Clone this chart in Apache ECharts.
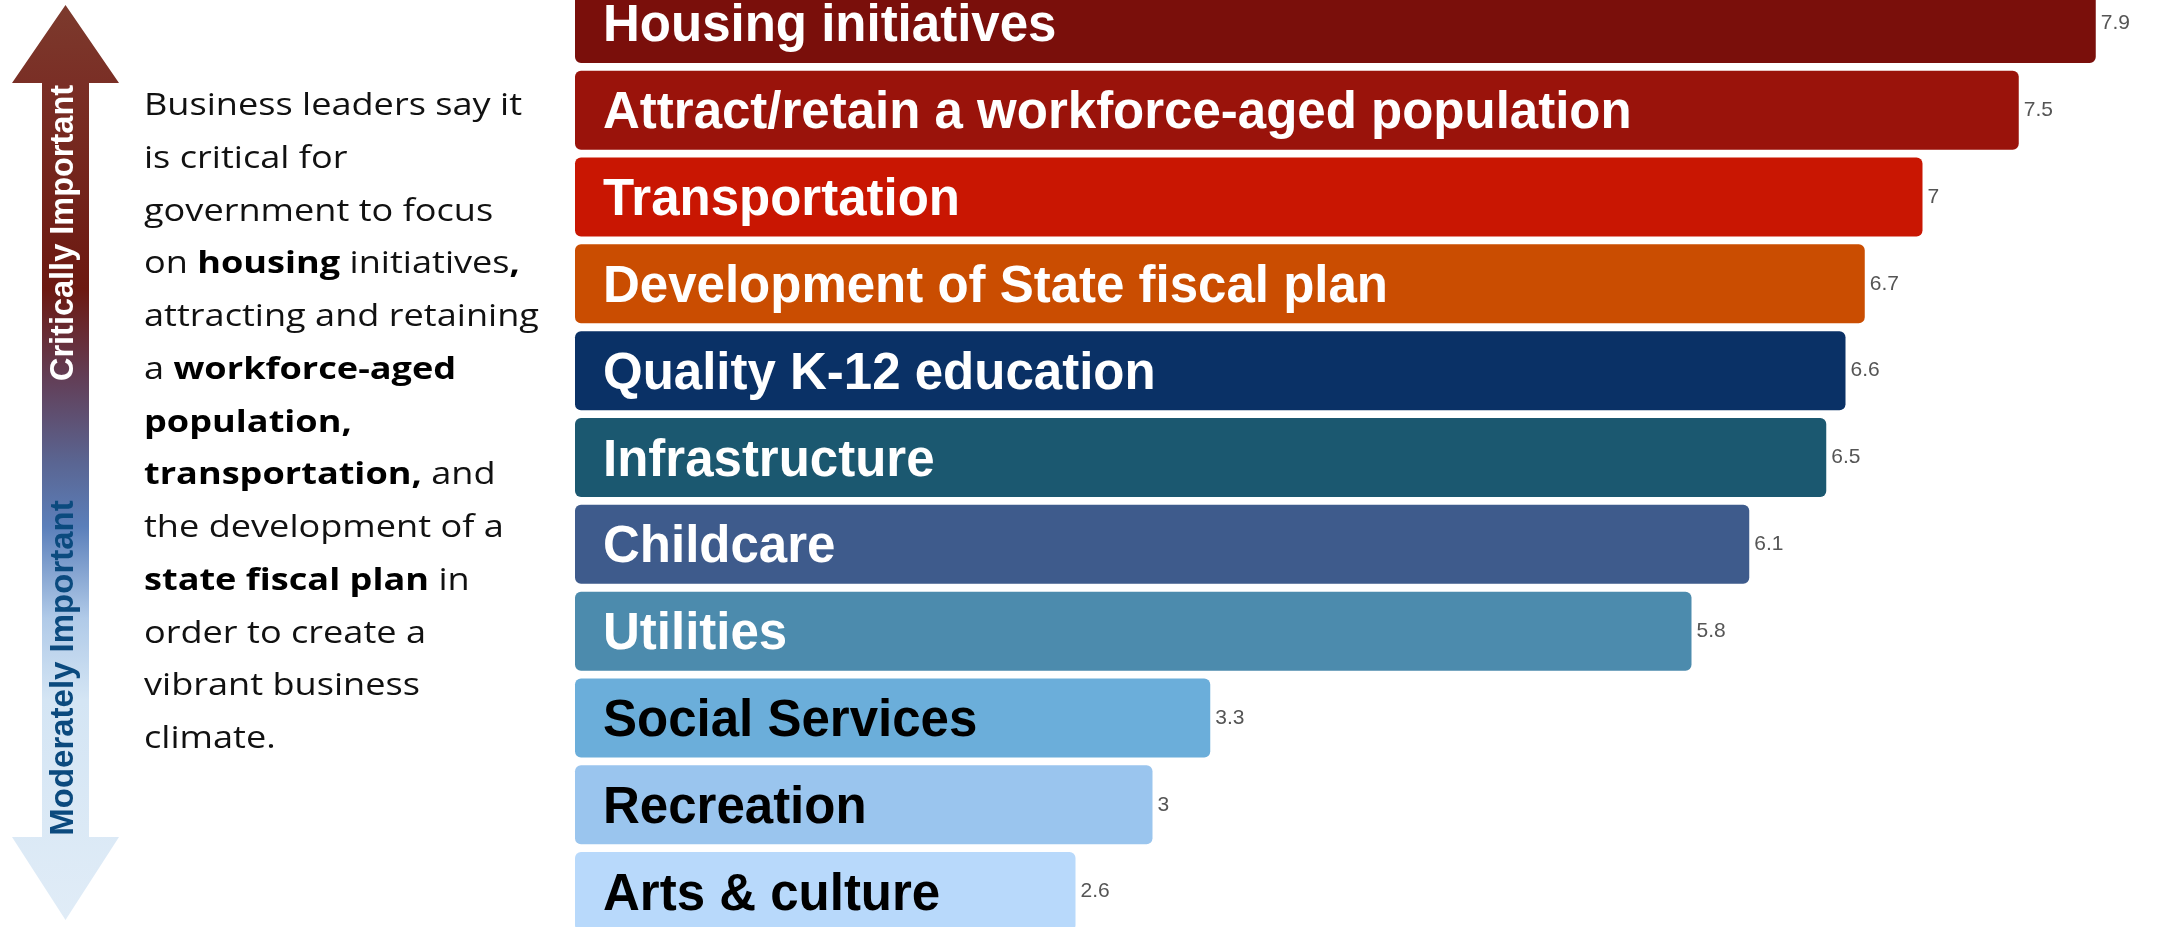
<!DOCTYPE html>
<html>
<head>
<meta charset="utf-8">
<script src="https://cdn.jsdelivr.net/npm/echarts@6/dist/echarts.min.js"></script>
<style>
html,body{margin:0;padding:0;background:#fff;}
#chart{width:2157px;height:927px;}
</style>
</head>
<body>
<div id="chart"></div>
<script>
// ---- data ----
const categories = [
  'Housing initiatives',
  'Attract/retain a workforce-aged population',
  'Transportation',
  'Development of State fiscal plan',
  'Quality K-12 education',
  'Infrastructure',
  'Childcare',
  'Utilities',
  'Social Services',
  'Recreation',
  'Arts & culture'
];
const values = [7.9, 7.5, 7, 6.7, 6.6, 6.5, 6.1, 5.8, 3.3, 3, 2.6];
const arrowLabels = ['Critically Important', 'Moderately Important'];
const paragraphLines = [
  'Business leaders say it',
  'is critical for',
  'government to focus',
  'on {b|housing} initiatives{b|,}',
  'attracting and retaining',
  'a {b|workforce-aged}',
  '{b|population,}',
  '{b|transportation,} and',
  'the development of a',
  '{b|state fiscal plan} in',
  'order to create a',
  'vibrant business',
  'climate.'
];

// ---- styles ----
const barColors = ['#7A0F0B','#9A130B','#C91602','#CA4D01','#0A3166','#1B5870',
                   '#3E5B8C','#4C8BAD','#6BAEDA','#9AC5EE','#B8D9FB'];
const nameColors = ['#fff','#fff','#fff','#fff','#fff','#fff','#fff','#fff','#000','#000','#000'];
const paraFont = '"Open Sans", Lato, sans-serif';
const paraSize = 31;

// horizontal stretch so the paragraph font matches the reference line width
const mc = document.createElement('canvas').getContext('2d');
mc.font = paraSize + 'px ' + paraFont;
const paraScale = 378 / mc.measureText(paragraphLines[0]).width;

const chart = echarts.init(document.getElementById('chart'), null, {renderer:'canvas'});

const arrowGradient = new echarts.graphic.LinearGradient(0, 0, 0, 1, [
  {offset: 0.00, color: '#7C3A2D'},
  {offset: 0.09, color: '#7A2E25'},
  {offset: 0.31, color: '#6C1911'},
  {offset: 0.41, color: '#623F58'},
  {offset: 0.50, color: '#5A6592'},
  {offset: 0.57, color: '#5B7FBA'},
  {offset: 0.67, color: '#B0CAE8'},
  {offset: 0.76, color: '#D4E5F4'},
  {offset: 1.00, color: '#E0ECF7'}
]);

const option = {
  animation: false,
  backgroundColor: '#fff',
  grid: {left: 575, top: -20, width: 1540, height: 955, containLabel: false, outerBoundsMode: 'none'},
  xAxis: {type: 'value', min: 0, max: 8, show: false},
  yAxis: {type: 'category', data: categories, inverse: true, show: false},
  series: [
    {
      type: 'bar',
      barWidth: 79,
      z: 2,
      data: values.map((v, i) => ({
        value: v,
        itemStyle: {color: barColors[i]},
        label: {color: nameColors[i]}
      })),
      itemStyle: {borderRadius: 6},
      label: {
        show: true,
        position: 'insideLeft',
        distance: 28,
        offset: [0, 4],
        formatter: '{b}',
        fontFamily: 'Liberation Sans, Arial, sans-serif',
        fontWeight: 'bold',
        fontSize: 51
      }
    },
    {
      type: 'bar',
      barWidth: 79,
      barGap: '-100%',
      z: 1,
      silent: true,
      data: values,
      itemStyle: {color: 'rgba(0,0,0,0)'},
      label: {
        show: true,
        position: 'right',
        distance: 5,
        fontFamily: 'Liberation Sans, Arial, sans-serif',
        fontSize: 21,
        color: '#555'
      }
    }
  ],
  graphic: [
    {
      type: 'polygon',
      shape: {points: [
        [65.5, 5], [119, 83], [89, 83], [89, 837], [119, 837],
        [65.5, 920], [12, 837], [42, 837], [42, 83], [12, 83]
      ]},
      style: {fill: arrowGradient}
    },
    {
      type: 'text',
      x: 64, y: 233,
      rotation: Math.PI / 2,
      style: {
        text: arrowLabels[0],
        fill: '#fff',
        font: 'bold 32.5px "Liberation Sans", Arial, sans-serif',
        align: 'center',
        verticalAlign: 'middle'
      }
    },
    {
      type: 'text',
      x: 64, y: 668,
      rotation: Math.PI / 2,
      style: {
        text: arrowLabels[1],
        fill: '#0B4A7E',
        font: 'bold 33px "Liberation Sans", Arial, sans-serif',
        align: 'center',
        verticalAlign: 'middle'
      }
    },
    {
      type: 'text',
      x: 144, y: 80,
      scaleX: paraScale,
      style: {
        text: paragraphLines.join('\n'),
        fill: '#111',
        font: paraSize + 'px ' + paraFont,
        lineHeight: 52.75,
        rich: {
          b: {
            fontFamily: paraFont,
            fontWeight: 700,
            fontSize: paraSize,
            lineHeight: 52.75,
            fill: '#000'
          }
        }
      }
    }
  ]
};
chart.setOption(option);
</script>
</body>
</html>
